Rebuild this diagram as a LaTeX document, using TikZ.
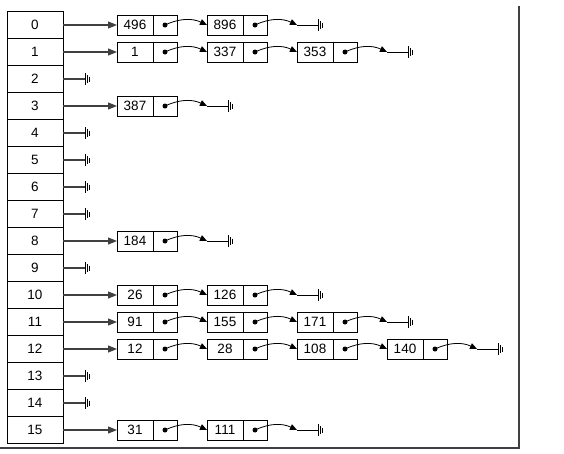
\documentclass[tikz,border=0pt]{standalone}
\usepackage{fontspec}
\setmainfont{Liberation Sans}
\usetikzlibrary{positioning}
\usetikzlibrary{arrows.meta}

\tikzset{
  cell/.style={draw, minimum width=56pt, minimum height=27pt, inner sep=0pt},
  val/.style={draw, minimum width=36pt, minimum height=20pt, inner sep=0pt, outer sep=0pt},
  ptr/.style={draw, minimum width=24pt, minimum height=20pt, inner sep=0pt, outer sep=0pt},
  arr/.style={-{Triangle[length=7pt,width=6pt]}},
  tarr/.style={-{Triangle[length=9pt,width=7pt]}, black!75, line width=1.1pt},
}

% element of a chain: row, place in row, value
\newcommand{\elem}[3]{%
  \node[val] (e#1-#2) at ({117+90*(#2-1)+18}, {-(25+27*#1)}) {#3};
  \node[ptr, right=0pt of e#1-#2] (p#1-#2) {};
  \fill (p#1-#2) circle (2.5pt);
}
% null end
\newcommand{\nullsym}[1]{%
  \draw (#1) ++(0,6) -- ++(0,-12) ++(2,2) -- ++(0,8) ++(2,-1.5) -- ++(0,-5);
}

\begin{document}
\begin{tikzpicture}[x=1pt, y=1pt, line width=0.8pt, font=\fontsize{13.5}{15}\selectfont]
\useasboundingbox (0,0) rectangle (564,-453);

\foreach \r in {0,...,15}
  \node[cell] (t\r) at (35, {-(25+27*\r)}) {\r};

\elem{0}{1}{496} \elem{0}{2}{896}
\elem{1}{1}{1} \elem{1}{2}{337} \elem{1}{3}{353}
\elem{3}{1}{387}
\elem{8}{1}{184}
\elem{10}{1}{26} \elem{10}{2}{126}
\elem{11}{1}{91} \elem{11}{2}{155} \elem{11}{3}{171}
\elem{12}{1}{12} \elem{12}{2}{28} \elem{12}{3}{108} \elem{12}{4}{140}
\elem{15}{1}{31} \elem{15}{2}{111}

\foreach \r in {0,1,3,8,10,11,12,15}
  \path[tarr] (t\r) edge (e\r-1);

\foreach \r/\c/\d in {0/1/2, 1/1/2, 1/2/3, 10/1/2, 11/1/2, 11/2/3, 12/1/2, 12/2/3, 12/3/4, 15/1/2}
  \path[arr] (p\r-\c.center) edge[bend left=25] (e\r-\d.west);

\foreach \r/\c in {0/2, 1/3, 3/1, 8/1, 10/2, 11/3, 12/4, 15/2} {
  \coordinate[right=30pt of p\r-\c] (n\r);
  \coordinate[right=21pt of n\r] (g\r);
  \path[arr] (p\r-\c.center) edge[bend left=25] (n\r);
  \draw (n\r) -- (g\r);
  \nullsym{g\r}
}

\foreach \r in {2,4,5,6,7,9,13,14} {
  \coordinate[right=22pt of t\r] (g\r);
  \draw[black!75, line width=1.1pt] (t\r) -- (g\r);
  \nullsym{g\r}
}

\draw[black!75, line width=1.2pt] (0,-448) -- (519,-448) -- (519,-6);
\end{tikzpicture}
\end{document}
